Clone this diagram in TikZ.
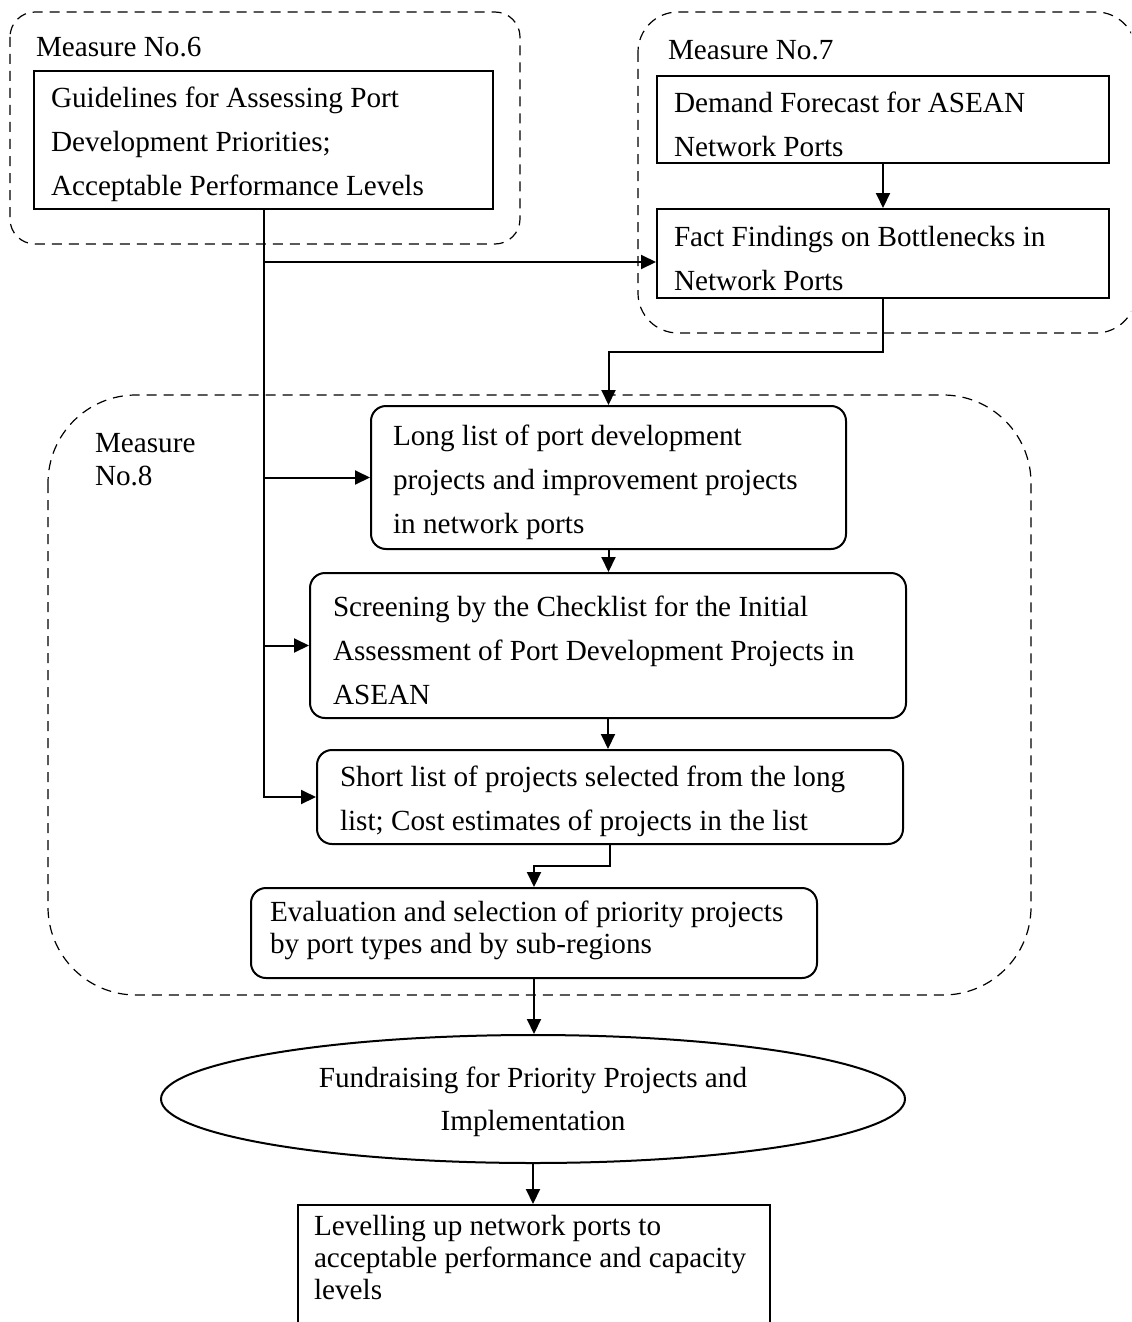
\documentclass[tikz,border=0pt]{standalone}
\usepackage{fontspec}
\setmainfont{Liberation Serif}
\usetikzlibrary{arrows.meta,shapes.geometric}

\begin{document}
\begin{tikzpicture}[x=0.5pt, y=-0.5pt, line width=1pt,
        every node/.style={font=\fontsize{14.6pt}{22pt}\selectfont, inner ysep=0pt},
        sqbox/.style={draw, anchor=north west, align=flush left, text height=15pt},
        rbox/.style={sqbox, rounded corners=7.5pt},
        grp/.style={draw, dash pattern=on 5pt off 3.5pt, line width=0.6pt},
        lbl/.style={anchor=west, inner sep=0pt, align=flush left},
        arr/.style={-{Triangle[length=7.5pt,width=7pt]}}]
        \useasboundingbox (0,0) rectangle (1131,1322);
        \clip (0,0) rectangle (1131,1322);

        % measure groups
        \draw[grp, rounded corners=12.5pt] (10,12) rectangle (520,244);
        \draw[grp, rounded corners=20pt] (638,12) rectangle (1136,333);
        \draw[grp, rounded corners=44pt] (48,395) rectangle (1031,995);
        \node (m6) [lbl] at (35,47) {Measure No.6};
        \node (m7) [lbl] at (667,50) {Measure No.7};
        \node (m8) [lbl, text width=60pt, font=\fontsize{14.6pt}{16.5pt}\selectfont] at (94,460) {Measure\\No.8};

        % boxes
        \node (guide) [sqbox, minimum width=229.5pt, minimum height=69pt, inner xsep=8.5pt, text width=212.5pt] at (33,70)
                {Guidelines for Assessing Port\\Development Priorities;\\Acceptable Performance Levels};
        \node (demand) [sqbox, minimum width=226pt, minimum height=43.5pt, inner xsep=8.5pt, text width=209pt] at (656,75)
                {Demand Forecast for ASEAN\\Network Ports};
        \node (fact) [sqbox, minimum width=226pt, minimum height=44.5pt, inner xsep=8.5pt, text width=209pt] at (656,208)
                {Fact Findings on Bottlenecks in\\Network Ports};
        \node (long) [rbox, minimum width=237.5pt, minimum height=71.5pt, inner xsep=11pt, text width=215.5pt] at (370,405)
                {Long list of port development\\projects and improvement projects\\in network ports};
        \node (screen) [rbox, minimum width=298pt, minimum height=72.5pt, inner xsep=11.5pt, text width=275pt] at (309,572)
                {Screening by the Checklist for the Initial\\Assessment of Port Development Projects in\\ASEAN};
        \node (short) [rbox, minimum width=293pt, minimum height=47pt, inner xsep=11.5pt, text width=270pt] at (316,749)
                {Short list of projects selected from the long\\list; Cost estimates of projects in the list};
        \node (eval) [rbox, text height=, text depth=22pt, minimum width=283pt, minimum height=45pt, inner xsep=9.5pt, text width=264pt, font=\fontsize{14.6pt}{16pt}\selectfont] at (250,887)
                {Evaluation and selection of priority projects\\by port types and by sub-regions};
        \node (fund) [draw, ellipse, text depth=0pt, minimum width=372pt, minimum height=64pt, inner sep=0pt, align=flush center, font=\fontsize{14.6pt}{21.5pt}\selectfont] at (533,1099)
                {Fundraising for Priority Projects and\\Implementation};
        \node (level) [sqbox, minimum width=236pt, minimum height=84pt, inner xsep=8pt, text width=220pt, font=\fontsize{14.6pt}{16pt}\selectfont] at (297,1204)
                {Levelling up network ports to\\acceptable performance and capacity\\levels\\\strut\\\strut};

        % connectors
        \coordinate (j7) at (guide.south |- 0,262);
        \draw[arr] (guide.south) |- (short.west);
        \draw[arr] (j7) -- (j7 -| fact.west);
        \draw[arr] (guide.south |- long.west) -- (long.west);
        \draw[arr] (guide.south |- screen.west) -- (screen.west);
        \draw[arr] (demand.south) -- (fact.north);
        \draw[arr] (fact.south) -- ++(0,53) -| (long.north);
        \draw[arr] (long.south) -- (long.south |- screen.north);
        \draw[arr] (screen.south) -- (screen.south |- short.north);
        \draw[arr] (short.south) -- ++(0,21) -| (eval.north);
        \draw[arr] (eval.south) -- (eval.south |- fund.north);
        \draw[arr] (fund.south) -- (fund.south |- level.north);
\end{tikzpicture}
\end{document}
